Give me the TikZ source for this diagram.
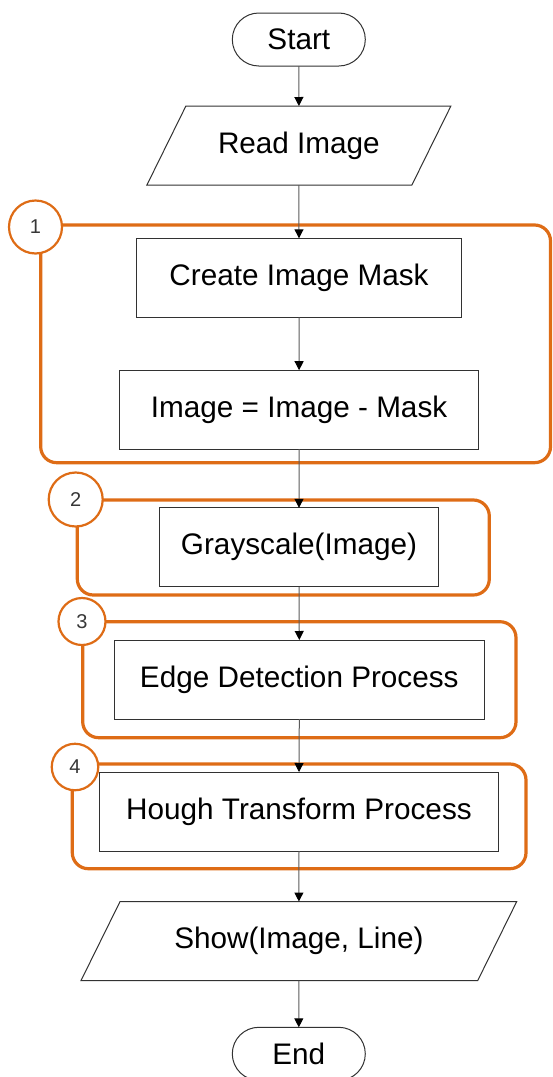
\documentclass[tikz,border=0pt]{standalone}
\usepackage{fontspec}
\setmainfont{Liberation Sans}
\usetikzlibrary{arrows.meta}
\definecolor{grouporange}{RGB}{222,108,22}
\definecolor{linegray}{RGB}{90,90,90}
\definecolor{boxgray}{RGB}{50,50,50}
\definecolor{numgray}{RGB}{55,55,55}
\begin{document}
\begin{tikzpicture}[x=1pt,y=-1pt,
  every node/.style={inner sep=0pt,outer sep=0pt,font=\fontsize{29.7}{34}\selectfont},
  procbox/.style={draw=boxgray,line width=1pt,fill=white,minimum height=79pt},
  termbox/.style={draw=boxgray,line width=1pt,fill=white,minimum width=133pt,minimum height=53pt,rounded corners=26.5pt},
  iobox/.style={minimum height=79pt},
  ioshape/.style={draw=boxgray,line width=1pt,fill=white},
  groupbox/.style={draw=grouporange,line width=3.2pt,rounded corners=16pt},
  groupnum/.style={circle,draw=grouporange,line width=2.2pt,fill=white,text=numgray,font=\fontsize{20}{24}\selectfont},
  conn/.style={draw=linegray,line width=1pt,-{Triangle[width=9pt,length=9pt,fill=black,color=black]}}
]
\useasboundingbox (0,0) rectangle (552,1077);

% stage frames with their numbers
\draw[groupbox] (40.7,225) rectangle (550.5,462.7);
\draw[groupbox] (77.3,500) rectangle (489.3,595);
\draw[groupbox] (82.7,621.7) rectangle (516,737.7);
\draw[groupbox] (72.3,764) rectangle (526,868.7);
\node[groupnum,minimum size=53pt] (n1) at (35.5,227) {1};
\node[groupnum,minimum size=54pt] (n2) at (75.7,499.5) {2};
\node[groupnum,minimum size=47pt] (n3) at (82,621.5) {3};
\node[groupnum,minimum size=46.5pt] (n4) at (75,767) {4};

% flowchart steps
\node[termbox] (start) at (298.8,39.5) {Start};
\node[iobox,minimum width=265pt] (read) at (298.9,145.5) {};
\draw[ioshape] ([xshift=19.5pt]read.north west) -- ([xshift=19.5pt]read.north east)
  -- ([xshift=-19.5pt]read.south east) -- ([xshift=-19.5pt]read.south west) -- cycle;
\node at (read) {Read Image};
\node[procbox,minimum width=325.4pt] (mask) at (299,277.8) {Create Image Mask};
\node[procbox,minimum width=358.3pt] (sub) at (299.1,409.7) {Image = Image - Mask};
\node[procbox,minimum width=278.6pt] (gray) at (299,547.3) {Grayscale(Image)};
\node[procbox,minimum width=370pt] (edge) at (299.3,679.5) {Edge Detection Process};
\node[procbox,minimum width=399.4pt] (hough) at (299,811.5) {Hough Transform Process};
\node[iobox,minimum width=396.7pt] (show) at (298.9,941) {};
\draw[ioshape] ([xshift=19.5pt]show.north west) -- ([xshift=19.5pt]show.north east)
  -- ([xshift=-19.5pt]show.south east) -- ([xshift=-19.5pt]show.south west) -- cycle;
\node at (show) {Show(Image, Line)};
\node[termbox] (end) at (298.8,1053.8) {End};

% connectors
\draw[conn] (start.south) -- (read.north);
\draw[conn] (read.south) -- (mask.north);
\draw[conn] (mask.south) -- (sub.north);
\draw[conn] (sub.south) -- (gray.north);
\draw[conn] (gray.south) -- (edge.north);
\draw[conn] (edge.south) -- (hough.north);
\draw[conn] (hough.south) -- (show.north);
\draw[conn] (show.south) -- (end.north);
\end{tikzpicture}
\end{document}
